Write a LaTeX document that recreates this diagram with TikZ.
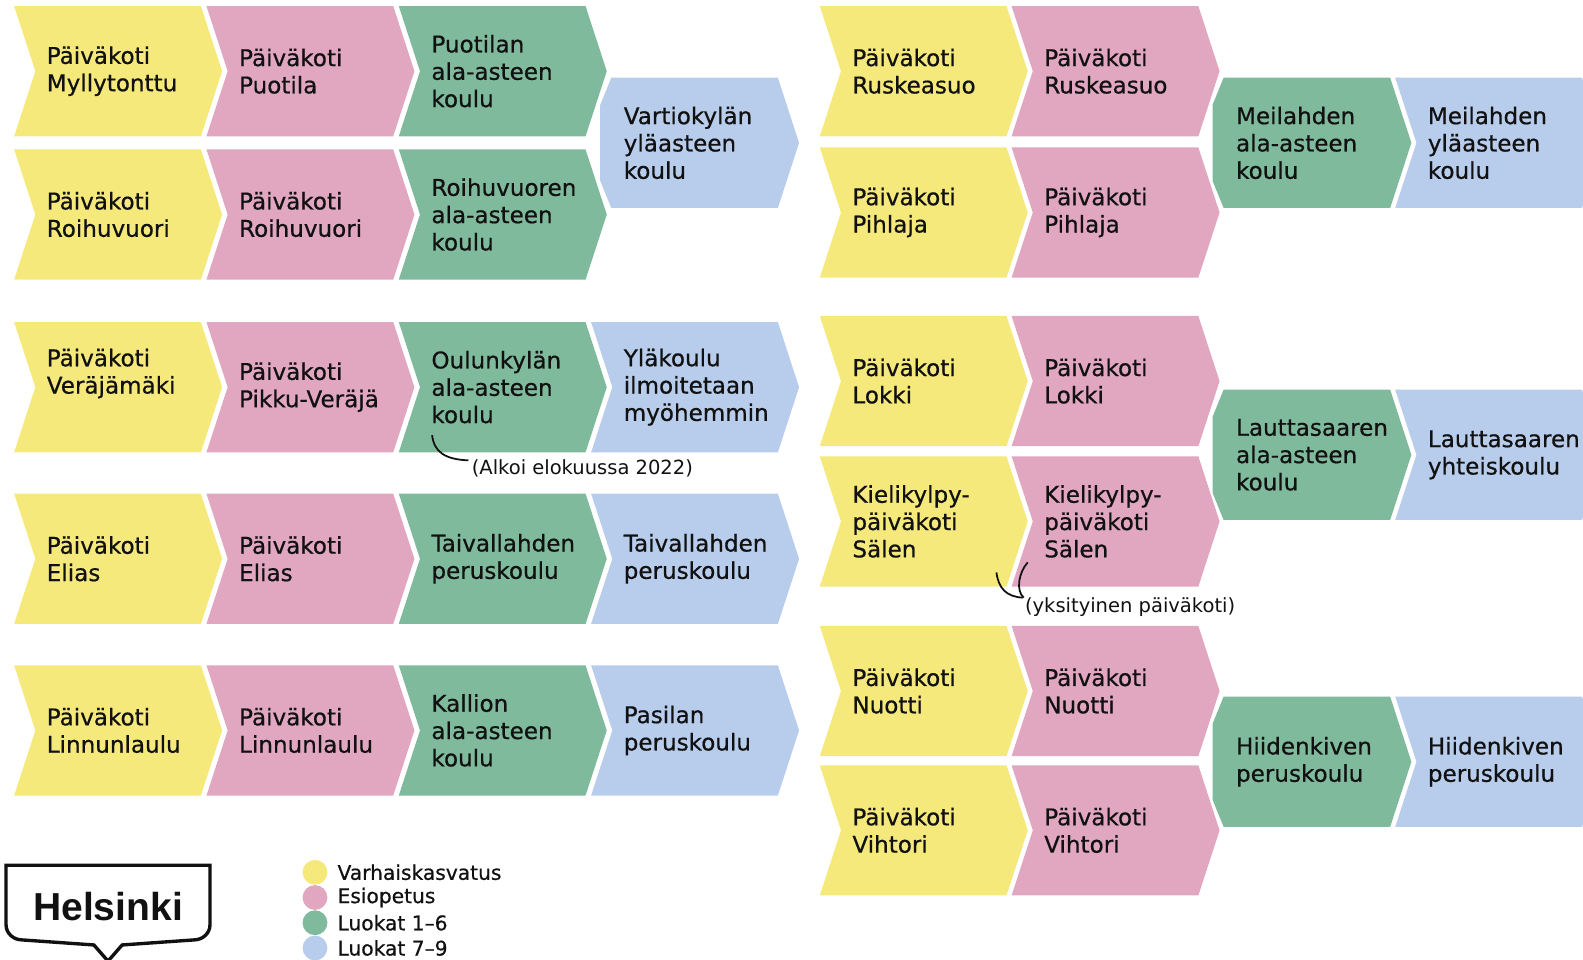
\documentclass[tikz,border=0pt]{standalone}
\usepackage{fontspec}
\setmainfont{DejaVu Sans}
\newfontfamily\medfont{DejaVu Sans}[UprightFeatures={FakeBold=0.6}]
\newfontfamily\logofont{Liberation Sans}
\definecolor{vkyellow}{HTML}{F5E97B}
\definecolor{eopink}{HTML}{E1A6C0}
\definecolor{alagreen}{HTML}{7FBA9D}
\definecolor{ylablue}{HTML}{B8CCEC}
\definecolor{ink}{HTML}{111111}
\tikzset{
  lbl/.style={anchor=west,align=left,inner sep=0pt,text=ink,font=\medfont\fontsize{13}{15.4}\selectfont},
  note/.style={anchor=west,inner sep=0pt,text=ink,font=\fontsize{11}{13}\selectfont},
  key/.style={anchor=west,inner sep=0pt,text=ink,font=\medfont\fontsize{11.4}{13}\selectfont},
  pointer/.style={line width=1pt,draw=ink},
}
%% chevron: [text shift] colour, left x, top y, name, text
\newcommand{\chev}[6][0]{%
  \fill[#2] (#3,#4) -- ++(185,0) -- ++(21,64.5) -- ++(-21,64.5) -- ++(-185,0) -- ++(21,-64.5) -- cycle;
  \node[lbl] (#5) at (#3+32,#4+64.5+#1) {#6};}
%% block fed by two rows, left side points back
\newcommand{\merged}[5]{%
  \fill[#1] (#2+20,#3) -- (#2+185,#3) -- ++(21,64.5) -- ++(-21,64.5) -- (#2+20,#3+129) -- (#2+9,#3+102) -- (#2+9,#3+27) -- cycle;
  \node[lbl] (#4) at (#2+32,#3+64.5) {#5};}
\begin{document}
\begin{tikzpicture}[x=0.02cm,y=-0.02cm]
  \useasboundingbox (0,0) rectangle (1568,950);
  \clip (0,0) rectangle (1568,950);
  %% left group
  \chev{vkyellow}{14}{6}{ymyl}{Päiväkoti\\Myllytonttu}
  \chev{eopink}{204.5}{6}{ppuo}{Päiväkoti\\Puotila}
  \chev{alagreen}{395}{6}{gpuo}{Puotilan\\ala-asteen\\koulu}
  \chev{vkyellow}{14}{148}{yroi}{Päiväkoti\\Roihuvuori}
  \chev{eopink}{204.5}{148}{proi}{Päiväkoti\\Roihuvuori}
  \chev{alagreen}{395}{148}{groi}{Roihuvuoren\\ala-asteen\\koulu}
  \merged{ylablue}{585.5}{77}{bvar}{Vartiokylän\\yläasteen\\koulu}
  \chev[-13.5]{vkyellow}{14}{319}{yver}{Päiväkoti\\Veräjämäki}
  \chev{eopink}{204.5}{319}{pver}{Päiväkoti\\Pikku-Veräjä}
  \chev{alagreen}{395}{319}{goul}{Oulunkylän\\ala-asteen\\koulu}
  \chev{ylablue}{585.5}{319}{bver}{Yläkoulu\\ilmoitetaan\\myöhemmin}
  \chev{vkyellow}{14}{489}{yeli}{Päiväkoti\\Elias}
  \chev{eopink}{204.5}{489}{peli}{Päiväkoti\\Elias}
  \chev{alagreen}{395}{489}{gtai}{Taivallahden\\peruskoulu}
  \chev{ylablue}{585.5}{489}{btai}{Taivallahden\\peruskoulu}
  \chev{vkyellow}{14}{659}{ylin}{Päiväkoti\\Linnunlaulu}
  \chev{eopink}{204.5}{659}{plin}{Päiväkoti\\Linnunlaulu}
  \chev{alagreen}{395}{659}{gkal}{Kallion\\ala-asteen\\koulu}
  \chev{ylablue}{585.5}{659}{bpas}{Pasilan\\peruskoulu}
  %% right group
  \foreach \t/\n/\nm in {6/Ruskeasuo/rus,146/Pihlaja/pih,313/Lokki/lok,620/Nuotti/nuo,758/Vihtori/vih}{
    \chev{vkyellow}{812}{\t}{y\nm}{Päiväkoti\\\n}
    \chev{eopink}{1002}{\t}{p\nm}{Päiväkoti\\\n}
  }
  \chev{vkyellow}{812}{452}{ysal}{Kielikylpy-\\päiväkoti\\Sälen}
  \chev{eopink}{1002}{452}{psal}{Kielikylpy-\\päiväkoti\\Sälen}
  \merged{alagreen}{1192}{77}{gmei}{Meilahden\\ala-asteen\\koulu}
  \chev{ylablue}{1382}{77}{bmei}{Meilahden\\yläasteen\\koulu}
  \merged{alagreen}{1192}{386}{glau}{Lauttasaaren\\ala-asteen\\koulu}
  \chev{ylablue}{1382}{386}{blau}{Lauttasaaren\\yhteiskoulu}
  \merged{alagreen}{1192}{690}{ghii}{Hiidenkiven\\peruskoulu}
  \chev{ylablue}{1382}{690}{bhii}{Hiidenkiven\\peruskoulu}
  %% notes
  \node[note] (alkoi) at (467,464) {(Alkoi elokuussa 2022)};
  \coordinate (alkoi0) at (428,431);
  \draw[pointer] (alkoi0) .. controls (430,448) and (441,455) .. ([shift={(-3,-8)}]alkoi.west);
  \node[note] (yks) at (1015,601) {(yksityinen päiväkoti)};
  \coordinate (yks0) at (987,567);
  \coordinate (yks1) at (1018,557);
  \draw[pointer] (yks0) .. controls (989,583) and (997,591) .. ([shift={(-2,-9)}]yks.west);
  \draw[pointer] (yks1) .. controls (1009,567) and (1006,585) .. ([shift={(-1,-9)}]yks.west);
  %% logo
  \draw[line width=1.9pt,ink] (107,952) -- (93,936) -- (22,931) to[out=180,in=-90] (6,916) -- (6,857)
    -- (208,857) -- (208,916) to[out=-90,in=0] (192,931) -- (121,936) -- cycle;
  \node[text=ink,font=\logofont\bfseries\fontsize{22}{24}\selectfont] (logo) at (107,898) {Helsinki};
  %% legend
  \foreach \c/\t [count=\i from 0] in {vkyellow/Varhaiskasvatus,eopink/Esiopetus,alagreen/Luokat 1–6,ylablue/Luokat 7–9}{
    \fill[\c] (312,864+25*\i) circle (12.3);
    \node[key] (key\i) at (334,864+25*\i) {\t};
  }
\end{tikzpicture}
\end{document}
